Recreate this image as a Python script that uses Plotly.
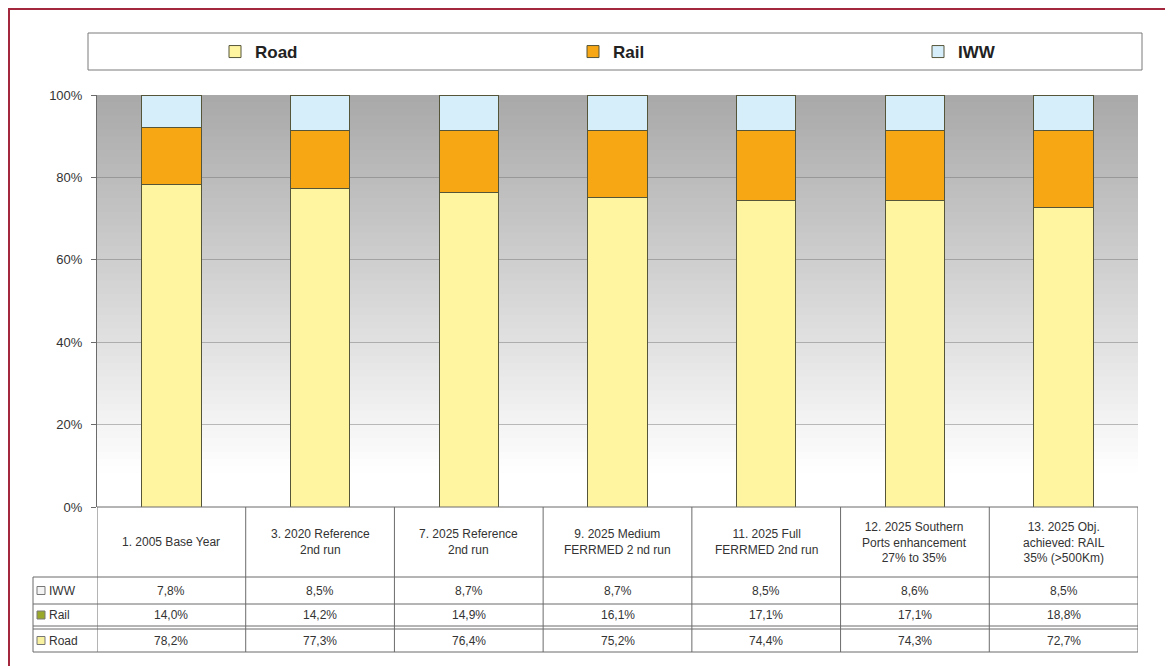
import plotly.graph_objects as go

# scenarios (table header text) and modal split values in %
SCENARIOS = [
    "1. 2005 Base Year",
    "3. 2020 Reference<br>2nd run",
    "7. 2025 Reference<br>2nd run",
    "9. 2025 Medium<br>FERRMED 2 nd run",
    "11. 2025 Full<br>FERRMED 2nd run",
    "12. 2025 Southern<br>Ports enhancement<br>27% to 35%",
    "13. 2025 Obj.<br>achieved: RAIL<br>35% (>500Km)",
]
ROAD = [78.2, 77.3, 76.4, 75.2, 74.4, 74.3, 72.7]
RAIL = [14.0, 14.2, 14.9, 16.1, 17.1, 17.1, 18.8]
IWW = [7.8, 8.5, 8.7, 8.7, 8.5, 8.6, 8.5]
Y_TICKS = [0, 20, 40, 60, 80, 100]

FONT = "Arial, Liberation Sans, sans-serif"
ROAD_C = "#fff5a0"
RAIL_C = "#f7a614"
IWW_C = "#d6eefa"
LINE_C = "#6b6b6b"

# page geometry (the html body adds an 8px margin)
OFF = 8
W, H = 1173 - 2 * OFF, 666 - OFF
PL, PT = 97, 95            # plot area top-left on the page
PW, PH = 1041, 412
L, T = PL - OFF, PT - OFF
R, B = W - L - PW, H - T - PH


def px_x(px):
    return (px - PL) / PW


def px_y(py):
    return 1 + (PT - py) / PH


def pct(v):
    return f"{v:.1f}%".replace(".", ",")


fig = go.Figure()
xs = list(range(len(SCENARIOS)))
series = [("Road", ROAD, ROAD_C, "legend"), ("Rail", RAIL, RAIL_C, "legend2"),
          ("IWW", IWW, IWW_C, "legend3")]
for name, vals, col, leg in series:
    fig.add_trace(go.Bar(
        x=xs, y=vals, name=name, marker_color=col, legend=leg, showlegend=True,
        marker_line=dict(color="#55553a", width=1), width=0.4,
    ))

shapes = []

# grey gradient background of plot area
n = 60
for i in range(n):
    y0 = 100 * i / n
    y1 = min(100, 100 * (i + 1) / n + 0.6)
    t = min(1.0, max(0.0, (y0 - 8) / 92))
    g = int(255 - t * (255 - 168))
    shapes.append(dict(type="rect", xref="x", yref="y", x0=-0.5, x1=6.5, y0=y0, y1=y1,
                       fillcolor=f"rgb({g},{g},{g})", line_width=0, layer="below"))

# legend frame
shapes.append(dict(type="rect", xref="paper", yref="paper",
                   x0=px_x(88), x1=px_x(1142), y0=px_y(70), y1=px_y(33),
                   line=dict(color="#7a7a7a", width=1)))

# outer red frame
shapes.append(dict(type="rect", xref="paper", yref="paper",
                   x0=px_x(9), x1=px_x(1400), y0=px_y(900), y1=px_y(9),
                   line=dict(color="#a3283e", width=2)))

# table lines
ty_top, ty_head, ty_iww, ty_rail, ty_road, ty_bot = 507, 577, 604, 626, 629, 652
for k in range(len(SCENARIOS) + 1):
    shapes.append(dict(type="line", xref="x", yref="paper", x0=k - 0.5, x1=k - 0.5,
                       y0=px_y(ty_top), y1=px_y(ty_bot), line=dict(color=LINE_C, width=1)))
shapes.append(dict(type="line", xref="paper", yref="paper", x0=0, x1=1,
                   y0=px_y(ty_top), y1=px_y(ty_top), line=dict(color=LINE_C, width=1)))
for yy in [ty_head, ty_iww, ty_rail, ty_road, ty_bot]:
    shapes.append(dict(type="line", xref="paper", yref="paper", x0=px_x(33), x1=1,
                       y0=px_y(yy), y1=px_y(yy), line=dict(color=LINE_C, width=1)))
shapes.append(dict(type="line", xref="paper", yref="paper", x0=px_x(33), x1=px_x(33),
                   y0=px_y(ty_head), y1=px_y(ty_bot), line=dict(color=LINE_C, width=1)))

annotations = []
tfont = dict(family=FONT, size=12, color="#333333")
for i, s in enumerate(SCENARIOS):
    annotations.append(dict(x=i, y=px_y((ty_top + ty_head) / 2), xref="x", yref="paper",
                            yanchor="middle", text=s, showarrow=False, font=tfont))

rows = [
    ("IWW", IWW, "#f4f4f4", (ty_head + ty_iww) / 2),
    ("Rail", RAIL, "#9aa82a", (ty_iww + ty_rail) / 2),
    ("Road", ROAD, "#f8f1a0", (ty_road + ty_bot) / 2),
]
for name, vals, key_c, yc in rows:
    shapes.append(dict(type="rect", xref="paper", yref="paper",
                       x0=px_x(37), x1=px_x(45), y0=px_y(yc + 4), y1=px_y(yc - 4),
                       fillcolor=key_c, line=dict(color="#777777", width=1)))
    annotations.append(dict(x=px_x(47), y=px_y(yc), xref="paper", yref="paper",
                            xanchor="left", yanchor="middle", text=name,
                            showarrow=False, font=tfont))
    for i, v in enumerate(vals):
        annotations.append(dict(x=i, y=px_y(yc), xref="x", yref="paper", yanchor="middle",
                                text=pct(v), showarrow=False, font=tfont))

legfont = dict(family=FONT, size=17, color="#222222", weight="bold")


def leg(x_page):
    return dict(orientation="h", x=px_x(x_page), xanchor="left", y=px_y(52),
                yanchor="middle", bgcolor="rgba(0,0,0,0)", font=legfont)


fig.update_layout(
    width=W, height=H,
    margin=dict(l=L, r=R, t=T, b=B),
    barmode="stack",
    showlegend=True,
    paper_bgcolor="white",
    plot_bgcolor="rgba(0,0,0,0)",
    font=dict(family=FONT, color="#333333"),
    legend=leg(215),
    legend2=leg(573),
    legend3=leg(918),
    xaxis=dict(range=[-0.5, 6.5], showticklabels=False, showgrid=False,
               zeroline=False, showline=False, ticks=""),
    yaxis=dict(range=[0, 100], tickvals=Y_TICKS, ticktext=[f"{v}%" for v in Y_TICKS],
               showgrid=True, gridcolor="rgba(110,110,110,0.45)", gridwidth=1,
               zeroline=False, showline=True, linecolor=LINE_C, linewidth=1,
               ticks="outside", ticklen=5, tickcolor=LINE_C,
               ticklabelstandoff=6,
               tickfont=dict(family=FONT, size=13, color="#333333")),
    shapes=shapes,
    annotations=annotations,
)

fig.write_html("out.html")
